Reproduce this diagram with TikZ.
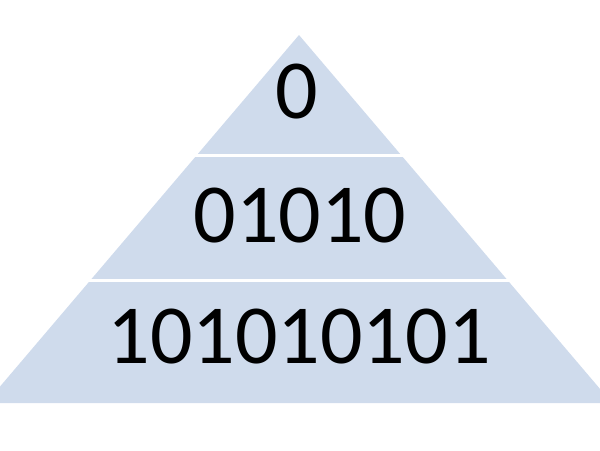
\documentclass[tikz,border=0pt]{standalone}
\usepackage{fontspec}
\setmainfont{Carlito}
\definecolor{levelblue}{RGB}{207,219,236}
\tikzset{
    level/.style={fill=levelblue, draw=none},
    gap/.style={draw=white, line width=2.25pt},
    digits/.style={inner sep=0pt, anchor=center, font=\fontsize{63pt}{63pt}\selectfont}
}
\begin{document}
\begin{tikzpicture}[x=0.75pt, y=-0.75pt]

% page
    \useasboundingbox (0,0) rectangle (600,450);
    \clip (0,0) rectangle (600,450);

% pyramid
    \fill[level] (299,35) -- (612,403) -- (-14,403) -- cycle;
% white lines between the levels
    \draw[gap] (0,155.5) -- (600,155.5);
    \draw[gap] (0,280.5) -- (600,280.5);

% labels
    \node[digits] (top) at (297,92) {0};
    \node[digits] (middle) at (300,216) {01010};
    \node[digits] (bottom) at (299,337) {101010101};

\end{tikzpicture}
\end{document}
